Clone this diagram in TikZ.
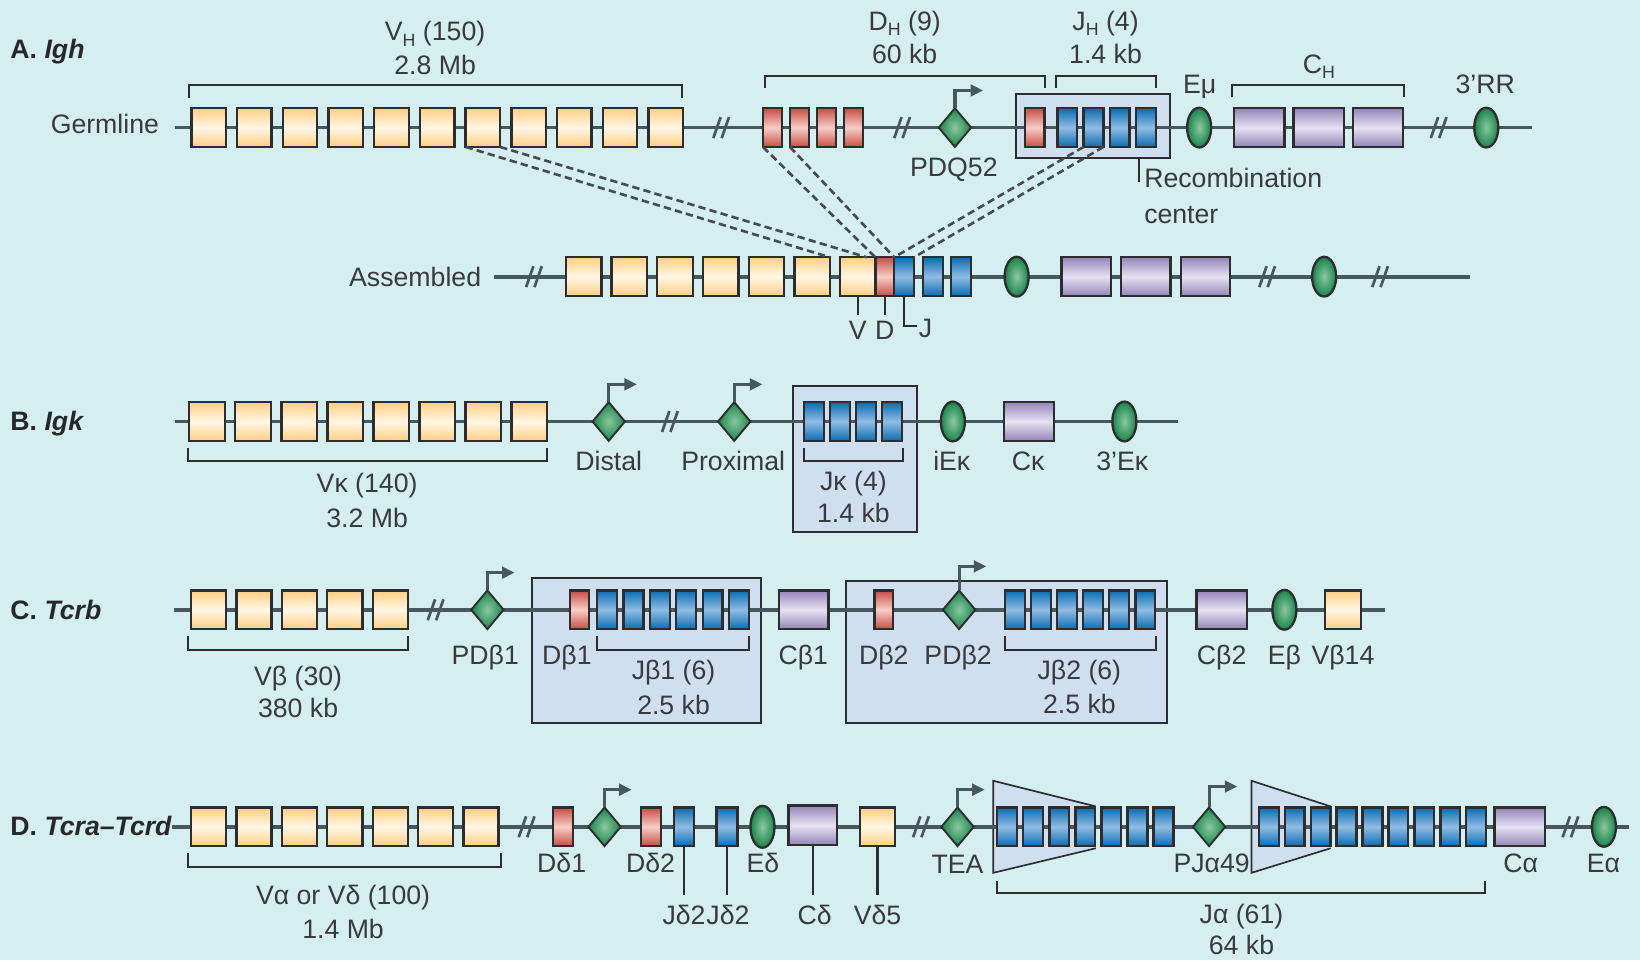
\documentclass[tikz,border=0pt]{standalone}
\usepackage{fontspec}
\setmainfont{Liberation Sans}
\usetikzlibrary{shapes.geometric,arrows.meta,calc}
\definecolor{bgc}{RGB}{213,238,240}
\definecolor{bbc}{RGB}{72,86,94}
\definecolor{bord}{RGB}{45,45,48}
\definecolor{vY}{RGB}{255,206,130}
\definecolor{vYm}{RGB}{255,247,230}
\definecolor{dR}{RGB}{198,78,68}
\definecolor{dRm}{RGB}{246,205,198}
\definecolor{jB}{RGB}{8,108,178}
\definecolor{jBm}{RGB}{145,188,228}
\definecolor{cP}{RGB}{148,132,184}
\definecolor{cPm}{RGB}{230,226,242}
\definecolor{gO}{RGB}{24,132,74}
\definecolor{gI}{RGB}{140,200,160}
\definecolor{rbf}{RGB}{208,223,240}
\definecolor{txtc}{RGB}{58,58,62}
\definecolor{ttlc}{RGB}{40,40,44}
\definecolor{dashc}{RGB}{70,75,80}
\newcommand\lfont{\fontsize{25.5}{30}\selectfont}
\newcommand\ssub[1]{\raisebox{-0.2em}{\fontsize{17}{17}\selectfont #1}}
\begin{document}
\begin{tikzpicture}[x=1pt,y=-1pt,
  bb/.style={draw=bbc, line width=3.6pt},
  seg/.style={rectangle, draw=bord, line width=2.2pt, inner sep=0pt, outer sep=0pt, minimum height=37pt},
  vseg/.style={seg, minimum width=34pt, top color=vY, bottom color=vY, middle color=vYm},
  dseg/.style={seg, minimum width=18.5pt, top color=dR, bottom color=dR, middle color=dRm},
  jseg/.style={seg, minimum width=19pt, top color=jB, bottom color=jB, middle color=jBm},
  cseg/.style={seg, minimum width=48pt, top color=cP, bottom color=cP, middle color=cPm},
  enh/.style={ellipse, draw=bord, line width=2.2pt, minimum width=23pt, minimum height=38pt, inner sep=0pt, outer sep=0pt, inner color=gI, outer color=gO},
  prom/.style={diamond, draw=bord, line width=1.8pt, minimum width=31pt, minimum height=37pt, inner sep=0pt, outer sep=0pt, inner color=gI, outer color=gO},
  rbox/.style={rectangle, draw=bord, fill=rbf, line width=1.8pt, inner sep=0pt},
  parr/.style={draw=bbc, line width=3pt, -{Triangle[length=12pt,width=11pt]}},
  brkl/.style={draw=bbc, line width=2.6pt},
  brkt/.style={draw=bord, line width=2pt},
  dsh/.style={draw=dashc, line width=2.5pt, dash pattern=on 7pt off 4pt},
  lbl/.style={inner sep=0pt, outer sep=0pt, text=txtc, font=\lfont, text height=18pt, text depth=0pt},
  ttl/.style={lbl, text=ttlc, font=\lfont\bfseries},
  brk/.pic={\draw[brkl] (-8,10) -- (-1,-10); \draw[brkl] (0,10) -- (7,-10);}
]
\fill[bgc] (0,0) rectangle (1568,918);
\useasboundingbox (0,0) rectangle (1568,918);

% ================= A. Igh germline =================
\node[ttl, anchor=west] (tA) at (10,47) {A. \textit{Igh}};
\node[lbl, anchor=east] (tGerm) at (152,119) {Germline};
\node[rbox, minimum width=147pt, minimum height=61pt] (rc) at (1045.3,120.5) {};
\coordinate (Ag0) at (167,122); \coordinate (Ag1) at (1465,122);
\draw[bb] (Ag0) -- (Ag1);
\foreach \i in {1,...,11} \node[vseg, minimum width=33pt] (gV\i) at ({199.5+(\i-1)*43.7},122) {};
\foreach \i in {1,...,4} \node[dseg] (gD\i) at ({738.7+(\i-1)*25.8},122) {};
\node[dseg] (gDr) at (989.4,122) {};
\foreach \i in {1,...,4} \node[jseg] (gJ\i) at ({1020.5+(\i-1)*25},122) {};
\node[enh] (gEmu) at (1146.5,122) {};
\foreach \i in {1,...,3} \node[cseg] (gC\i) at ({1204+(\i-1)*56.8},122) {};
\node[enh] (g3RR) at (1421,122) {};
\node[prom] (pdq) at (913,122) {};
\draw[parr] (pdq.north) -- ++(0,-17) -- ++(27,0);
\pic at (690,122) {brk}; \pic at (863,122) {brk}; \pic at (1376,122) {brk};
% brackets
\draw[brkt] (181,93.5) -- (181,81) -- (652,81) -- (652,93.5);
\draw[brkt] (731,84.5) -- (731,72.7) -- (999,72.7) -- (999,84.5);
\draw[brkt] (1010,84.5) -- (1010,72.7) -- (1105,72.7) -- (1105,84.5);
\draw[brkt] (1178,93) -- (1178,81) -- (1342,81) -- (1342,93);
\node[lbl] (tVH) at (416,30) {V\ssub{H} (150)};
\node[lbl] (tVHs) at (416,62) {2.8 Mb};
\node[lbl] (tDH) at (865,20) {D\ssub{H} (9)};
\node[lbl] (tDHs) at (865,52) {60 kb};
\node[lbl] (tJH) at (1057,20) {J\ssub{H} (4)};
\node[lbl] (tJHs) at (1057,52) {1.4 kb};
\node[lbl] (tEmu) at (1147,80) {Eμ};
\node[lbl] (tCH) at (1261,61) {C\ssub{H}};
\node[lbl] (t3RR) at (1420,80) {3’RR};
\node[lbl] (tPDQ) at (912,160) {PDQ52};
\coordinate (rcc) at (1089,151);
\draw[brkt] (rcc) -- ++(0,23);
\node[lbl, anchor=west] (tRC1) at (1094,170) {Recombination};
\node[lbl, anchor=west] (tRC2) at (1094,205) {center};

% ================= A. assembled =================
\node[lbl, anchor=east] (tAss) at (460,264.5) {Assembled};
\coordinate (As0) at (472.5,264.5); \coordinate (As1) at (1405,264.5);
\draw[bb] (As0) -- (As1);
\foreach \i in {1,...,7} \node[vseg] (aV\i) at ({558+(\i-1)*43.7},264.5) {};
\node[dseg, minimum width=18pt] (aD) at (846,264.5) {};
\node[jseg] (aJ1) at (864.3,264.5) {};
\node[jseg] (aJ2) at (892,264.5) {};
\node[jseg] (aJ3) at (919,264.5) {};
\node[enh] (aE1) at (972,264.5) {};
\foreach \i in {1,...,3} \node[cseg, minimum width=47pt] (aC\i) at ({1038.5+(\i-1)*57},264.5) {};
\node[enh] (aE2) at (1266,264.5) {};
\pic at (511,264.5) {brk}; \pic at (1212,264.5) {brk}; \pic at (1320,264.5) {brk};
\draw[brkt] (aV7.south) -- ++(0,18);
\draw[brkt] (aD.south) -- ++(0,18);
\draw[brkt] (aJ1.south) -- ++(0,29) -- ++(12,0);
\node[lbl] (tV) at (820,316) {V};
\node[lbl] (tD) at (846,316) {D};
\node[lbl] (tJ) at (885,314) {J};
% recombination dashes
\draw[dsh] (gV7.south west) -- (aV6.north east);
\draw[dsh] (gV7.south east) -- ($(aV7.north)!0.5!(aV7.north east)$);
\draw[dsh] (gD1.south west) -- (aD.north west);
\draw[dsh] (gD2.south west) -- (aD.north east);
\draw[dsh] (gJ2.south west) -- (aJ1.north west);
\draw[dsh] (gJ2.south east) -- (aJ1.north east);

% ================= B. Igk =================
\node[ttl, anchor=west] (tB) at (10,403) {B. \textit{Igk}};
\node[rbox, minimum width=119pt, minimum height=140pt] (jkbox) at (817.5,439) {};
\coordinate (B0) at (167,403); \coordinate (B1) at (1126,403);
\draw[bb] (B0) -- (B1);
\foreach \i in {1,...,8} \node[vseg] (bV\i) at ({198+(\i-1)*44},403) {};
\foreach \i in {1,...,4} \node[jseg] (bJ\i) at ({778+(\i-1)*25},403) {};
\node[prom] (pdist) at (582,403) {};
\node[prom] (pprox) at (702,403) {};
\draw[parr] (pdist.north) -- ++(0,-17) -- ++(27,0);
\draw[parr] (pprox.north) -- ++(0,-17) -- ++(27,0);
\pic at (641,403) {brk};
\node[enh] (bE1) at (911,403) {};
\node[cseg] (bC) at (984,403) {};
\node[enh] (bE2) at (1075,403) {};
\draw[brkt] (180,428) -- (180,441) -- (523,441) -- (523,428);
\draw[brkt] (769,428) -- (769,441) -- (863,441) -- (863,428);
\node[lbl] (tVk) at (351,462) {Vκ (140)};
\node[lbl] (tVks) at (351,495) {3.2 Mb};
\node[lbl] (tJk) at (816,460) {Jκ (4)};
\node[lbl] (tJks) at (816,491) {1.4 kb};
\node[lbl] (tDist) at (582,441) {Distal};
\node[lbl] (tProx) at (701,441) {Proximal};
\node[lbl] (tiEk) at (910,441) {iEκ};
\node[lbl] (tCk) at (983,441) {Cκ};
\node[lbl] (t3Ek) at (1073,441) {3’Eκ};

% ================= C. Tcrb =================
\node[ttl, anchor=west] (tC) at (10,583) {C. \textit{Tcrb}};
\node[rbox, minimum width=218.7pt, minimum height=138pt] (cbox1) at (618.35,622) {};
\node[rbox, minimum width=307pt, minimum height=135.5pt] (cbox2) at (962.5,623.25) {};
\coordinate (C0) at (166.5,583); \coordinate (C1) at (1324,583);
\draw[bb] (C0) -- (C1);
\foreach \i in {1,...,5} \node[vseg, minimum width=33.5pt] (cV\i) at ({199.5+(\i-1)*43.4},583) {};
\node[prom] (pdb1) at (466,583) {};
\draw[parr] (pdb1.north) -- ++(0,-17) -- ++(26,0);
\pic at (417,583) {brk};
\node[dseg, minimum width=18pt] (cD1) at (554,583) {};
\foreach \i in {1,...,6} \node[jseg] (cJa\i) at ({580.5+(\i-1)*25.2},583) {};
\node[cseg, minimum width=47pt] (cC1) at (768.5,583) {};
\node[dseg, minimum width=18pt] (cD2) at (845,583) {};
\node[prom] (pdb2) at (917,583) {};
\draw[parr] (pdb2.north) -- ++(0,-23) -- ++(26,0);
\foreach \i in {1,...,6} \node[jseg] (cJb\i) at ({970.5+(\i-1)*24.9},583) {};
\node[cseg] (cC2) at (1168,583) {};
\node[enh] (cEb) at (1228,583) {};
\node[vseg] (cV14) at (1284,583) {};
\draw[brkt] (180,608) -- (180,621.5) -- (390,621.5) -- (390,608);
\draw[brkt] (571,608) -- (571,621.5) -- (716,621.5) -- (716,608);
\draw[brkt] (961,608) -- (961,621.5) -- (1105,621.5) -- (1105,608);
\node[lbl] (tVb) at (285,646) {Vβ (30)};
\node[lbl] (tVbs) at (285,677) {380 kb};
\node[lbl] (tJb1) at (644,641) {Jβ1 (6)};
\node[lbl] (tJb1s) at (644,674) {2.5 kb};
\node[lbl] (tJb2) at (1032,641) {Jβ2 (6)};
\node[lbl] (tJb2s) at (1032,673) {2.5 kb};
\node[lbl] (tPDb1) at (464,626) {PDβ1};
\node[lbl] (tDb1) at (542,626) {Dβ1};
\node[lbl] (tCb1) at (768,626) {Cβ1};
\node[lbl] (tDb2) at (845,626) {Dβ2};
\node[lbl] (tPDb2) at (916,626) {PDβ2};
\node[lbl] (tCb2) at (1168,626) {Cβ2};
\node[lbl] (tEb) at (1228,626) {Eβ};
\node[lbl] (tVb14) at (1284,626) {Vβ14};

% ================= D. Tcra-Tcrd =================
\node[ttl, anchor=west] (tDD) at (10,790) {D. \textit{Tcra–Tcrd}};
\coordinate (ta1) at (949.6,746.5); \coordinate (ta2) at (1047.7,771); \coordinate (ta3) at (1047.7,811); \coordinate (ta4) at (949.6,834.5);
\coordinate (tb1) at (1196.5,746.5); \coordinate (tb2) at (1272.2,771); \coordinate (tb3) at (1272.2,811); \coordinate (tb4) at (1196.5,834.5);
\fill[rbf] (ta1) -- (ta2) -- (ta3) -- (ta4) -- cycle;
\draw[draw=bord, line width=1.6pt] (ta2) -- (ta1) -- (ta4) -- (ta3);
\fill[rbf] (tb1) -- (tb2) -- (tb3) -- (tb4) -- cycle;
\draw[draw=bord, line width=1.6pt] (tb2) -- (tb1) -- (tb4) -- (tb3);
\coordinate (D0) at (164,790.5); \coordinate (D1) at (1557,790.5);
\draw[bb] (D0) -- (D1);
\foreach \i in {1,...,7} \node[vseg, minimum width=33.5pt] (dV\i) at ({199.5+(\i-1)*43.4},790.5) {};
\pic at (504,790.5) {brk};
\node[dseg, minimum width=19pt] (dD1) at (538.5,790.5) {};
\node[prom] (pdd) at (578,790.5) {};
\draw[parr] (pdd.north) -- ++(0,-17) -- ++(26,0);
\node[dseg, minimum width=19pt] (dD2) at (622.5,790.5) {};
\node[jseg] (dJ1) at (654,790.5) {};
\node[jseg, minimum width=20pt] (dJ2) at (695,790.5) {};
\node[enh, minimum height=40pt] (dEd) at (729,790.5) {};
\node[cseg, minimum width=46pt, minimum height=38pt] (dCd) at (777,789) {};
\node[vseg] (dV5) at (839,790.5) {};
\pic at (881,790.5) {brk};
\node[prom] (ptea) at (915.5,790.5) {};
\draw[parr] (ptea.north) -- ++(0,-17) -- ++(26,0);
\foreach \i in {1,...,7} \node[jseg] (dJa\i) at ({963+(\i-1)*24.9},790.5) {};
\node[prom] (ppj) at (1156,790.5) {};
\draw[parr] (ppj.north) -- ++(0,-20) -- ++(27,0);
\foreach \i in {1,...,9} \node[jseg] (dJb\i) at ({1213+(\i-1)*24.8},790.5) {};
\node[cseg] (dCa) at (1453,790.5) {};
\pic at (1502,790.5) {brk};
\node[enh] (dEa) at (1533.5,790.5) {};
\draw[brkt] (180,816) -- (180,829) -- (479,829) -- (479,816);
\draw[brkt] (953,842) -- (953,853.5) -- (1420,853.5) -- (1420,842);
\draw[brkt] (dJ1.south) -- (dJ1.south |- 0,856);
\draw[brkt] (dJ2.south) -- (dJ2.south |- 0,856);
\draw[brkt] (dCd.south) -- (dCd.south |- 0,856);
\draw[brkt] (dV5.south) -- (dV5.south |- 0,856);
\node[lbl] (tVa) at (328,856) {Vα or Vδ (100)};
\node[lbl] (tVas) at (328,888) {1.4 Mb};
\node[lbl] (tDd1) at (537,825) {Dδ1};
\node[lbl] (tDd2) at (622,825) {Dδ2};
\node[lbl] (tEd) at (729.5,825) {Eδ};
\node[lbl] (tTEA) at (915.5,826) {TEA};
\node[lbl] (tPJ) at (1158.5,825) {PJα49};
\node[lbl] (tCa) at (1454,825) {Cα};
\node[lbl] (tEa) at (1533,825) {Eα};
\node[lbl] (tJd1) at (654,875) {Jδ2};
\node[lbl] (tJd2) at (696,875) {Jδ2};
\node[lbl] (tCd) at (779,875) {Cδ};
\node[lbl] (tVd5) at (839,875) {Vδ5};
\node[lbl] (tJa) at (1187,874) {Jα (61)};
\node[lbl] (tJas) at (1187,904) {64 kb};
\end{tikzpicture}
\end{document}
